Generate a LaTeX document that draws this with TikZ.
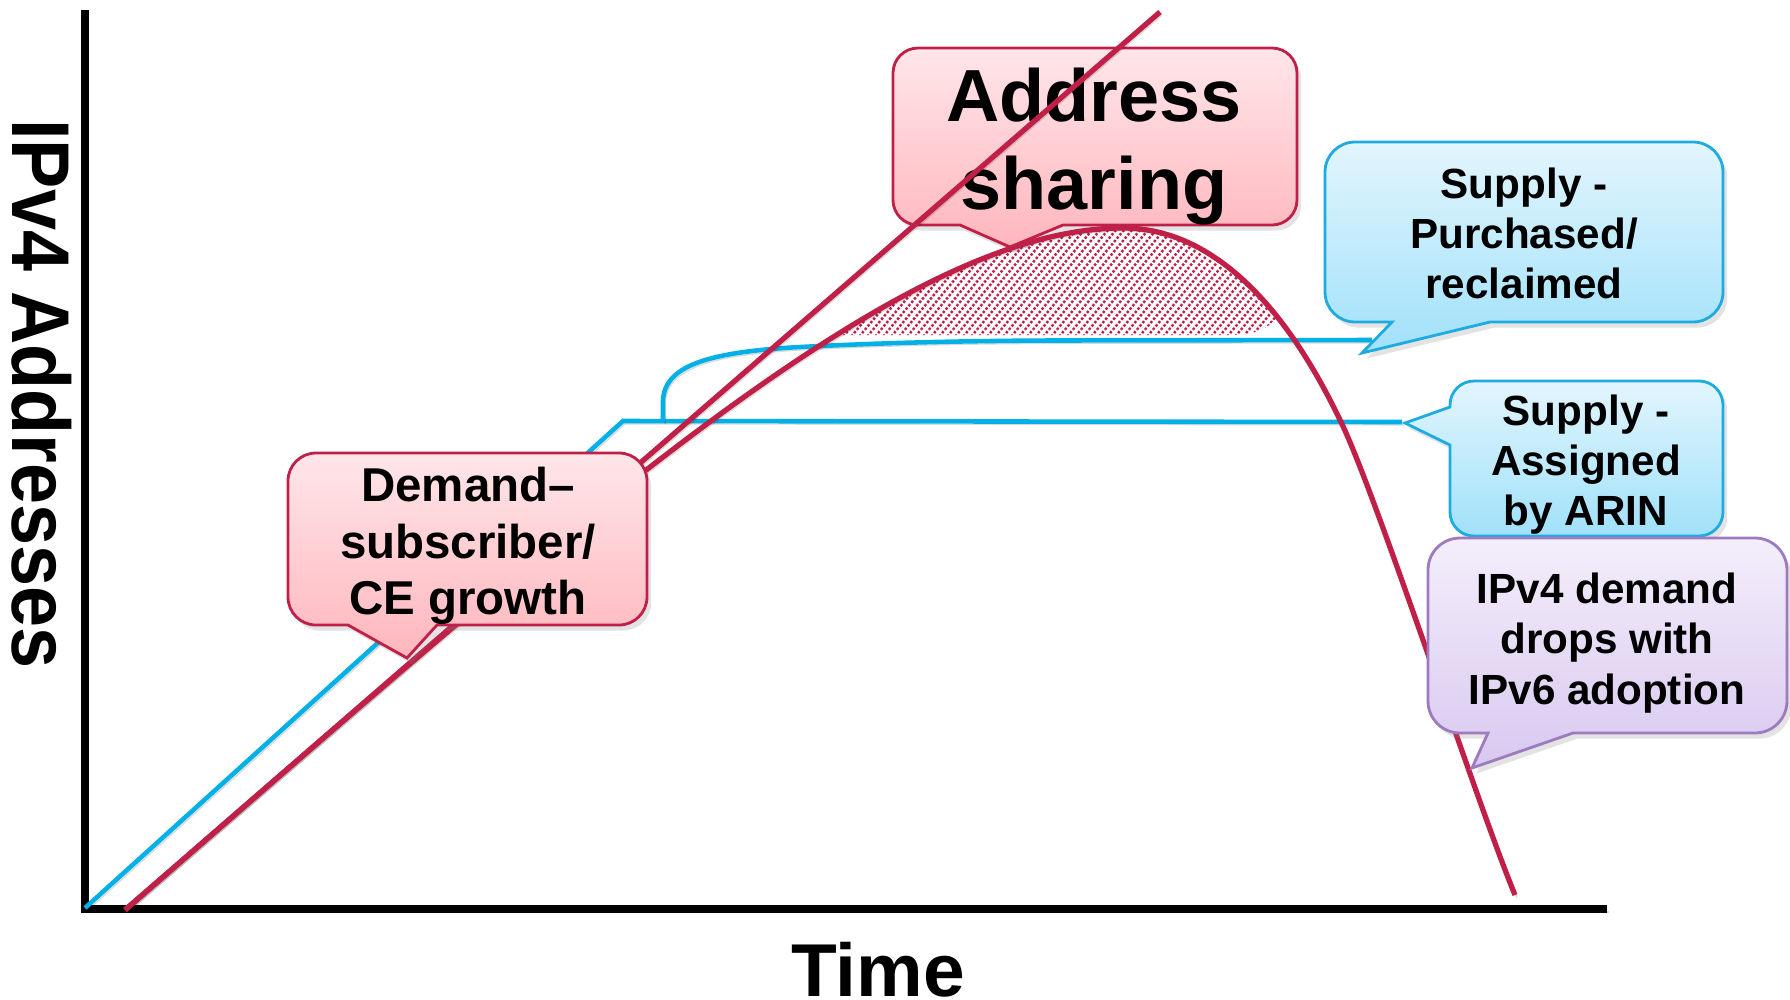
\documentclass[tikz,border=0pt]{standalone}
\usepackage{graphicx}
\usepackage{fontspec}
\setmainfont{Liberation Sans}
\usetikzlibrary{shadows}

\definecolor{demandred}{RGB}{192,32,72}
\definecolor{supplyblue}{RGB}{0,176,230}
\definecolor{bluerim}{RGB}{30,172,224}
\definecolor{bluetop}{RGB}{226,245,253}
\definecolor{bluebot}{RGB}{160,225,250}
\definecolor{pinktop}{RGB}{255,230,233}
\definecolor{pinkbot}{RGB}{255,182,189}
\definecolor{violetrim}{RGB}{158,122,190}
\definecolor{violettop}{RGB}{244,238,251}
\definecolor{violetbot}{RGB}{216,200,240}

% demand curve: growth, flattening under address sharing, then the fall
\def\demandpath{(125,910) .. controls (595,502) and (903,228) .. (1123,228)
  .. controls (1243,228) and (1315,368) .. (1341,422)
  .. controls (1376,494) and (1477,803) .. (1515,895)}

\begin{document}
\begin{tikzpicture}[x=0.01cm, y=-0.01cm,
  softshadow/.style={preaction={draw=black, draw opacity=0.15,
      transform canvas={shift={(0.6pt,-0.8pt)}}}},
  axisline/.style={draw=black, line width=2.3pt, softshadow},
  demandline/.style={draw=demandred, line width=1.5pt, softshadow},
  supplyline/.style={draw=supplyblue, line width=1.3pt, softshadow},
  hatchline/.style={draw=demandred, line width=0.7pt, dash pattern=on 0.7pt off 0.55pt},
  bubble/.style={line width=0.8pt,
      drop shadow={opacity=0.22, shadow xshift=1.2pt, shadow yshift=-1.6pt}},
  pinkbubble/.style={bubble, draw=demandred, top color=pinktop, bottom color=pinkbot},
  bluebubble/.style={bubble, draw=bluerim, top color=bluetop, bottom color=bluebot},
  violetbubble/.style={bubble, draw=violetrim, top color=violettop, bottom color=violetbot},
  calltext/.style={inner sep=0pt, align=center}
]
\useasboundingbox (0,0) rectangle (1790,999);

% axes
\draw[axisline] (85,10) -- (85,909) -- (1607,909);

% "Address sharing" bubble (lies beneath the curves)
\path[pinkbubble] (918,48) -- (1272,48) .. controls +(13.8,0) and +(0,-13.8) .. (1297,73)
  -- (1297,200) .. controls +(0,13.8) and +(13.8,0) .. (1272,225)
  -- (1063,225) -- (1010,247) -- (960,225)
  -- (918,225) .. controls +(-13.8,0) and +(0,13.8) .. (893,200)
  -- (893,73) .. controls +(0,-13.8) and +(-13.8,0) .. (918,48) -- cycle;
\node[calltext, font=\fontsize{21}{25}\selectfont\bfseries] (sharing) at (1094,147) {Address\\sharing};

% hatched gap between demand and the purchased supply
\begin{scope}
  \clip \demandpath -- cycle;
  \clip (840,335) -- (1228,335) .. controls (1258,335) and (1274,327) .. (1282,308)
    -- (1282,190) -- (840,190) -- cycle;
  \foreach \k in {0,...,85} \draw[hatchline] (640+8*\k,350) -- ++(150,-180);
\end{scope}

% supply curves
\draw[supplyline] (85,908) -- (623,421) -- (1402,422);
\draw[supplyline] (663,421) -- (663,400) .. controls (665,365) and (710,352) .. (800,347)
  .. controls (880,343) and (950,341) .. (1050,340.5) -- (1372,340);

% demand curves
\draw[demandline] (125,910) -- (1160,12);
\draw[demandline] \demandpath;

% "Demand" bubble
\path[pinkbubble] (316,453) -- (619,453) .. controls +(15.5,0) and +(0,-15.5) .. (647,481)
  -- (647,597) .. controls +(0,15.5) and +(15.5,0) .. (619,625)
  -- (437,625) -- (407,658) -- (348,625)
  -- (316,625) .. controls +(-15.5,0) and +(0,15.5) .. (288,597)
  -- (288,481) .. controls +(0,-15.5) and +(-15.5,0) .. (316,453) -- cycle;
\node[calltext, font=\fontsize{13.5}{16.1}\selectfont\bfseries] (demand) at (468,546)
  {Demand--\\subscriber/\\CE growth};

% "Purchased" bubble
\path[bluebubble] (1355,142) -- (1693,142) .. controls +(16.6,0) and +(0,-16.6) .. (1723,172)
  -- (1723,292) .. controls +(0,16.6) and +(16.6,0) .. (1693,322)
  -- (1490,322) -- (1362,353) -- (1392,322)
  -- (1355,322) .. controls +(-16.6,0) and +(0,16.6) .. (1325,292)
  -- (1325,172) .. controls +(0,-16.6) and +(-16.6,0) .. (1355,142) -- cycle;
\node[calltext, font=\fontsize{12}{14.2}\selectfont\bfseries] (purchased) at (1524,233)
  {Supply -\\Purchased/\\reclaimed};

% "Assigned" bubble
\path[bluebubble] (1474,381) -- (1699,381) .. controls +(13.3,0) and +(0,-13.3) .. (1723,405)
  -- (1723,512) .. controls +(0,13.3) and +(13.3,0) .. (1699,536)
  -- (1474,536) .. controls +(-13.3,0) and +(0,13.3) .. (1450,512)
  -- (1450,445) -- (1405,423) -- (1450,407)
  -- (1450,405) .. controls +(0,-13.3) and +(-13.3,0) .. (1474,381) -- cycle;
\node[calltext, font=\fontsize{12}{14.2}\selectfont\bfseries] (assigned) at (1586,465)
  {Supply -\\Assigned\\by ARIN};

% IPv6 adoption bubble
\path[violetbubble] (1460,538) -- (1755,538) .. controls +(17.7,0) and +(0,-17.7) .. (1787,570)
  -- (1787,701) .. controls +(0,17.7) and +(17.7,0) .. (1755,733)
  -- (1573,733) -- (1472,768) -- (1488,733)
  -- (1460,733) .. controls +(-17.7,0) and +(0,17.7) .. (1428,701)
  -- (1428,570) .. controls +(0,-17.7) and +(-17.7,0) .. (1460,538) -- cycle;
\node[calltext, font=\fontsize{12}{14.4}\selectfont\bfseries] (dropping) at (1607,643)
  {IPv4 demand\\drops with\\IPv6 adoption};

% axis titles
\node[font=\fontsize{23.3}{28}\selectfont\bfseries, rotate=-90, inner sep=0pt] (yaxis) at (42,394)
  {\scalebox{0.9}[1]{IPv4 Addresses}};
\node[font=\fontsize{21.3}{26}\selectfont\bfseries, anchor=base, inner sep=0pt] (timeaxis) at (878,996) {Time};
\end{tikzpicture}
\end{document}
